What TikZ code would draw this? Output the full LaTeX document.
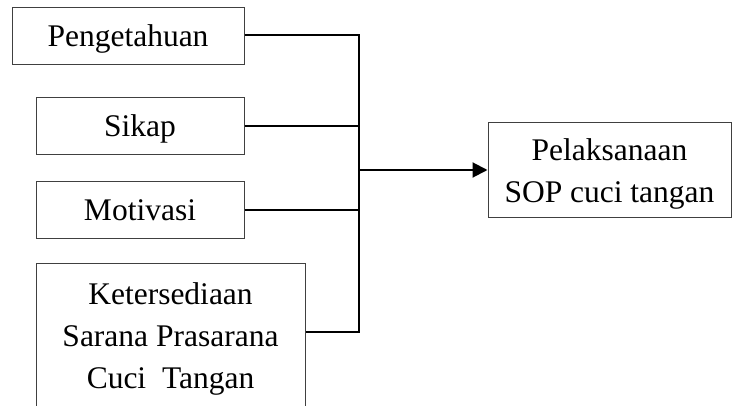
\documentclass[tikz,border=0pt]{standalone}
\usepackage{fontspec}
\setmainfont{Liberation Serif}
\usetikzlibrary{arrows.meta}
\begin{document}
\begin{tikzpicture}[x=1pt,y=-1pt,
  box/.style={draw=black!75, line width=1pt, inner sep=0pt, align=center,
    font=\fontsize{31.5}{42}\selectfont},
  single/.style={box, text height=21pt, text depth=0pt},
  conn/.style={line width=2pt}]
\useasboundingbox (0,0) rectangle (732,406);
\clip (0,0) rectangle (732,406);
\node[single, minimum width=232pt, minimum height=57pt] (b1) at (128,36.5) {Pengetahuan};
\node[single, minimum width=208pt, minimum height=57pt] (b2) at (140,126.5) {Sikap};
\node[single, minimum width=208pt, minimum height=57pt] (b3) at (140,210.5) {Motivasi};
\node[box, minimum width=269pt, inner ysep=19pt, anchor=north] (b4) at (170.5,263)
  {Ketersediaan\\Sarana Prasarana\\Cuci~~Tangan};
\node[box, minimum width=243pt, minimum height=95pt] (b5) at (609.5,170.5)
  {\rule{0pt}{28.5pt}Pelaksanaan\\SOP cuci tangan};
\coordinate (jt) at (359,35);
\coordinate (j) at (359,170);
\coordinate (jb) at (359,332);
\draw[conn] (b1.east |- jt) -- (jt) -- (jb) -- (b4.east |- jb);
\draw[conn] (b2.east) -- (b2.east -| j);
\draw[conn] (b3.east) -- (b3.east -| j);
\draw[conn, -{Triangle[length=15pt,width=15pt]}] (j) -- (b5.west |- j);
\end{tikzpicture}
\end{document}
